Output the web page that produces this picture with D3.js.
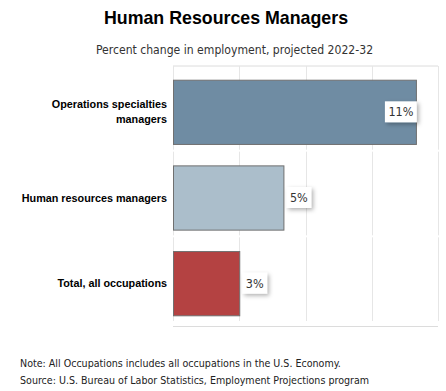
<!DOCTYPE html>
<html>
<head>
<meta charset="utf-8">
<script src="https://cdn.jsdelivr.net/npm/d3@7"></script>
<style>
  body { margin: 0; background: #fff; }
  svg { display: block; }
</style>
</head>
<body>
<svg id="chart" width="446" height="391"></svg>
<script>
// Chart values
var categories = ["Operations specialties managers", "Human resources managers", "Total, all occupations"];
var categoryLines = [["Operations specialties", "managers"], ["Human resources managers"], ["Total, all occupations"]];
var values = [11, 5, 3];
var barColors = ["#6f8ca3", "#abbecb", "#b44242"];
var gridTicks = [0, 3, 6, 9, 12];
var notes = [
  "Note: All Occupations includes all occupations in the U.S. Economy.",
  "Source: U.S. Bureau of Labor Statistics, Employment Projections program"
];

var svg = d3.select("#chart");
var plot = {left: 173, right: 438, top: 69, bottom: 326};

var x = d3.scaleLinear().domain([0, 12]).range([plot.left, plot.right]);
var y = d3.scaleBand().domain(categories)
          .range([plot.top, plot.bottom])
          .paddingInner(0.25).paddingOuter(0.125);

// drop shadow for the value labels
var defs = svg.append("defs");
defs.append("filter").attr("id", "shadow")
    .attr("x", "-30%").attr("y", "-30%").attr("width", "180%").attr("height", "180%")
    .append("feDropShadow")
    .attr("dx", 2).attr("dy", 2).attr("stdDeviation", 2)
    .attr("flood-color", "#000").attr("flood-opacity", 0.3);

// Titles
svg.append("text")
   .attr("x", 226).attr("y", 24)
   .attr("text-anchor", "middle")
   .style("font-family", "'Liberation Sans', Arial, sans-serif")
   .style("font-weight", "bold")
   .style("font-size", "17.8px")
   .style("fill", "#000")
   .text("Human Resources Managers");

svg.append("text")
   .attr("x", 234.5).attr("y", 53.5)
   .attr("text-anchor", "middle")
   .style("font-family", "'DejaVu Sans Condensed', 'DejaVu Sans', sans-serif")
   .style("font-size", "12.1px")
   .style("fill", "#333")
   .text("Percent change in employment, projected 2022-32");

// top and bottom frame lines
svg.append("line")
   .attr("x1", plot.left).attr("x2", plot.right)
   .attr("y1", plot.top - 3).attr("y2", plot.top - 3)
   .style("stroke", "#dcdcdc");
svg.append("line")
   .attr("x1", plot.left).attr("x2", plot.right)
   .attr("y1", plot.bottom + 0.5).attr("y2", plot.bottom + 0.5)
   .style("stroke", "#dcdcdc");

// vertical grid, broken per category row
var step = y.step();
categories.forEach(function(c, i) {
  var y0 = plot.top + i * step - 3;
  var y1 = plot.top + (i + 1) * step - 5;
  svg.append("g").attr("class", "grid")
     .selectAll("line")
     .data(gridTicks)
     .enter().append("line")
     .attr("x1", function(d) { return Math.round(x(d)) + 0.5; })
     .attr("x2", function(d) { return Math.round(x(d)) + 0.5; })
     .attr("y1", y0).attr("y2", y1)
     .style("stroke", "#e6e6e6");
});

// Bars
svg.append("g").selectAll("rect")
   .data(values)
   .enter().append("rect")
   .attr("x", x(0) + 0.5)
   .attr("y", function(d, i) { return y(categories[i]) + 0.5; })
   .attr("width", function(d) { return x(d) - x(0); })
   .attr("height", y.bandwidth())
   .style("fill", function(d, i) { return barColors[i]; })
   .style("stroke", "#707070")
   .style("stroke-width", 1);

// Category labels
var catLabels = svg.append("g").selectAll("text")
   .data(categoryLines)
   .enter().append("text")
   .attr("text-anchor", "end")
   .style("font-family", "'Liberation Sans', Arial, sans-serif")
   .style("font-weight", "bold")
   .style("font-size", "10.8px")
   .style("fill", "#000")
   .attr("transform", function(d, i) {
     var cy = y(categories[i]) + y.bandwidth() / 2;
     return "translate(" + (plot.left - 6) + "," + (cy + 4 - (d.length - 1) * 8) + ")";
   });
catLabels.selectAll("tspan")
   .data(function(d) { return d; })
   .enter().append("tspan")
   .attr("x", 0)
   .attr("dy", function(d, j) { return j === 0 ? 0 : 15.5; })
   .text(function(d) { return d; });

// Value labels (white boxes with shadow)
var boxH = 21;
var valueLabels = svg.append("g").selectAll("g")
   .data(values)
   .enter().append("g");

valueLabels.each(function(d, i) {
  var g = d3.select(this);
  var t = g.append("text")
           .style("font-family", "'DejaVu Sans Condensed', 'DejaVu Sans', sans-serif")
           .style("font-size", "12.5px")
           .style("fill", "#333")
           .text(d + "%");
  var w = t.node().getComputedTextLength() + 7;
  var cy = y(categories[i]) + y.bandwidth() / 2;
  var end = x(d);
  // the longest bar keeps its label inside the bar end
  var bx = (d === d3.max(values)) ? end - w + 1 : end + 3;
  g.insert("rect", "text")
   .attr("x", bx).attr("y", cy - boxH / 2)
   .attr("width", w).attr("height", boxH)
   .style("fill", "#fff")
   .attr("filter", "url(#shadow)");
  t.attr("x", bx + 3.5).attr("y", cy + 4.5);
});

// Notes
svg.append("g").selectAll("text")
   .data(notes)
   .enter().append("text")
   .attr("x", 20)
   .attr("y", function(d, i) { return 366.5 + i * 17.5; })
   .style("font-family", "'DejaVu Sans Condensed', 'DejaVu Sans', sans-serif")
   .style("font-size", "10.6px")
   .style("fill", "#222")
   .text(function(d) { return d; });
</script>
</body>
</html>
